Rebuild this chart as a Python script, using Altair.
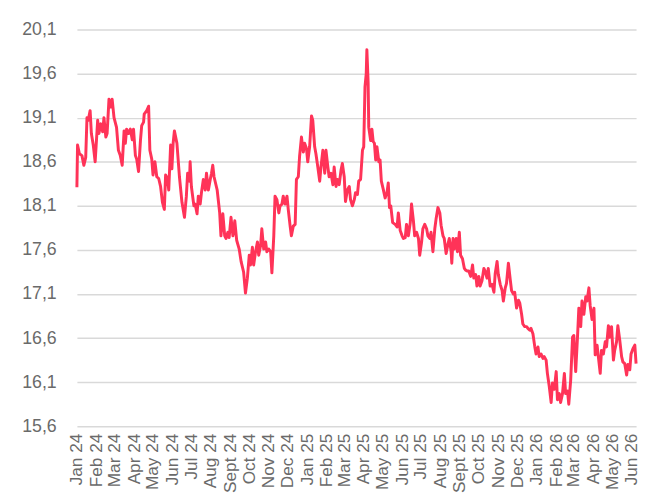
import altair as alt
import pandas as pd

start_date = "2024-01-01"

# Segment 1: Jan 2024 - Aug 2024 (days since start, value)
days_1 = [0, 1, 4, 8, 11, 14, 16, 18, 21, 23, 26, 29, 33, 35, 38, 41, 43, 46, 48, 51,
          54, 56, 59, 63, 66, 69, 72, 75, 77, 79, 82, 85, 88, 90, 93, 95, 98, 101, 103, 106,
          107, 111, 114, 116, 119, 121, 124, 127, 130, 133, 136, 139, 141, 144, 146, 149, 151, 153, 155, 159,
          163, 167, 171, 174, 176, 179, 180, 182, 186, 188, 191, 193, 196, 198, 201, 204, 206, 209, 212, 214,
          216, 218]
values_1 = [18.31, 18.79, 18.69, 18.67, 18.56, 18.65, 19.10, 19.07, 19.18, 18.92,
            18.79, 18.60, 19.07, 18.92, 19.03, 18.94, 19.10, 18.88, 18.92, 19.31,
            19.22, 19.31, 19.10, 18.99, 18.73, 18.67, 18.56, 18.95, 18.81, 18.97,
            18.92, 18.97, 18.85, 18.97, 18.67, 18.63, 18.49, 18.84, 19.01, 19.05,
            19.14, 19.18, 19.23, 18.73, 18.63, 18.45, 18.60, 18.43, 18.41, 18.32,
            18.14, 18.06, 18.45, 18.41, 18.28, 18.79, 18.52, 18.81, 18.95, 18.81,
            18.43, 18.14, 17.97, 18.21, 18.47, 18.38, 18.60, 18.32, 18.10, 18.12,
            18.01, 18.21, 18.12, 18.25, 18.40, 18.28, 18.47, 18.28, 18.40, 18.47,
            18.56, 18.43]

# Segment 2: Aug 2024 - Mar 2025
days_2 = [223, 227, 229, 232, 235, 237, 240, 242, 245, 248, 251, 254, 258, 261, 265, 268, 271, 274, 276, 279,
          281, 284, 287, 289, 292, 294, 297, 300, 302, 305, 308, 310, 313, 315, 318, 321, 323, 326, 328, 331,
          334, 336, 339, 341, 344, 347, 349, 352, 354, 357, 360, 362, 365, 367, 370, 373, 375, 378, 380, 383,
          386, 388, 391, 394, 396, 399, 401, 404, 407, 409, 412, 414, 417, 420, 422, 425, 427, 430, 433, 435,
          438, 441, 443, 446, 448, 451]
values_2 = [18.28, 18.02, 17.76, 18.01, 17.76, 17.73, 17.80, 17.74, 17.97, 17.76,
            17.93, 17.71, 17.61, 17.47, 17.35, 17.11, 17.28, 17.54, 17.43, 17.63,
            17.43, 17.58, 17.69, 17.54, 17.65, 17.84, 17.61, 17.69, 17.58, 17.61,
            17.58, 17.34, 17.76, 18.21, 18.17, 18.02, 18.10, 18.12, 18.21, 18.12,
            18.21, 18.06, 17.87, 17.76, 17.87, 17.89, 18.40, 18.43, 18.66, 18.88,
            18.71, 18.81, 18.75, 18.60, 18.77, 19.12, 19.07, 18.77, 18.69, 18.54,
            18.38, 18.54, 18.73, 18.47, 18.73, 18.54, 18.43, 18.47, 18.34, 18.54,
            18.32, 18.40, 18.34, 18.51, 18.58, 18.43, 18.15, 18.28, 18.32, 18.17,
            18.10, 18.17, 18.25, 18.23, 18.38, 18.40]

# Segment 3: Mar 2025 - Oct 2025
days_3 = [454, 456, 458, 460, 461, 463, 464, 467, 469, 471, 473, 475, 477, 480, 482, 484, 487, 490, 493, 495,
          497, 499, 502, 506, 509, 511, 514, 517, 519, 522, 524, 527, 530, 532, 535, 537, 540, 543, 545, 548,
          550, 553, 556, 558, 561, 563, 566, 569, 571, 574, 577, 579, 582, 584, 587, 590, 592, 595, 596, 598,
          600, 603, 605, 608, 610, 613, 616, 618, 621, 623, 626, 629, 631, 634, 636, 639, 641, 644, 647, 649,
          652, 654, 657, 660]
values_3 = [18.73, 18.77, 19.45, 19.60, 19.87, 19.50, 18.99, 18.84, 18.97, 18.83,
            18.81, 18.62, 18.77, 18.60, 18.62, 18.38, 18.29, 18.19, 18.25, 18.36,
            18.08, 18.10, 17.91, 17.89, 17.86, 18.02, 17.82, 17.76, 17.73, 17.74,
            17.89, 17.76, 17.91, 18.12, 17.93, 17.76, 17.80, 17.73, 17.54, 17.69,
            17.84, 17.89, 17.84, 17.76, 17.73, 17.80, 17.58, 17.84, 17.95, 18.08,
            18.02, 17.88, 17.76, 17.73, 17.56, 17.67, 17.73, 17.58, 17.45, 17.73,
            17.61, 17.73, 17.58, 17.80, 17.54, 17.50, 17.39, 17.37, 17.36, 17.36,
            17.30, 17.43, 17.28, 17.32, 17.19, 17.30, 17.19, 17.25, 17.39, 17.36,
            17.28, 17.39, 17.19, 17.21]

# Segment 4: Oct 2025 - Jun 2026
days_4 = [663, 665, 668, 670, 673, 676, 678, 681, 683, 686, 689, 691, 694, 696, 699, 702, 704, 707, 709, 712,
          715, 717, 720, 722, 725, 728, 730, 733, 735, 738, 741, 743, 746, 748, 751, 754, 756, 759, 762, 764,
          767, 769, 772, 775, 777, 780, 782, 785, 788, 790, 793, 796, 798, 801, 803, 806, 809, 811, 814, 816,
          819, 822, 824, 827, 829, 832, 834, 837, 840, 842, 845, 847, 850, 853, 855, 858, 860, 863, 866, 868,
          871, 874, 876, 879, 881, 884, 887, 889]
values_4 = [17.12, 17.33, 17.47, 17.32, 17.21, 17.14, 17.02, 17.17, 17.22, 17.45,
            17.26, 17.14, 17.10, 17.12, 16.94, 17.03, 17.00, 16.87, 16.76, 16.73,
            16.73, 16.71, 16.69, 16.71, 16.65, 16.50, 16.42, 16.50, 16.39, 16.42,
            16.37, 16.39, 16.35, 16.20, 16.05, 15.87, 16.09, 16.02, 16.22, 15.90,
            15.97, 15.87, 15.97, 16.20, 15.97, 16.00, 15.85, 16.12, 16.61, 16.63,
            16.22, 16.63, 16.94, 16.73, 17.02, 16.87, 17.07, 17.02, 17.17, 16.97,
            16.81, 16.94, 16.41, 16.52, 16.39, 16.20, 16.46, 16.42, 16.56, 16.50,
            16.74, 16.61, 16.73, 16.35, 16.46, 16.56, 16.74, 16.58, 16.39, 16.33,
            16.31, 16.18, 16.30, 16.24, 16.42, 16.48, 16.52, 16.31]

y_ticks = [15.6, 16.1, 16.6, 17.1, 17.6, 18.1, 18.6, 19.1, 19.6, 20.1]

days = days_1 + days_2 + days_3 + days_4
values = values_1 + values_2 + values_3 + values_4

df = pd.DataFrame({
    "date": pd.Timestamp(start_date) + pd.to_timedelta(days, unit="D"),
    "value": values,
})

FONT = "Liberation Sans"
LABEL_COLOR = "#6a6a6a"

chart = alt.Chart(df).mark_line(
    color="#FF3358", strokeWidth=3, strokeJoin="round"
).encode(
    x=alt.X(
        "date:T",
        scale=alt.Scale(nice=False),
        axis=alt.Axis(
            title=None,
            tickCount={"interval": "month", "step": 1},
            labelExpr="(month(datum.value) == 8 ? 'Sept' : timeFormat(datum.value, '%b')) + ' ' + timeFormat(datum.value, '%y')",
            labelAngle=-90,
            grid=False,
            domain=False,
            ticks=False,
            labelPadding=7,
            labelOverlap=False,
            labelFlush=False,
            labelFont=FONT,
            labelFontSize=17.5,
            labelColor=LABEL_COLOR,
        ),
    ),
    y=alt.Y(
        "value:Q",
        scale=alt.Scale(domain=[15.6, 20.1], nice=False, zero=False),
        axis=alt.Axis(
            title=None,
            values=y_ticks,
            labelExpr="replace(format(datum.value, '.1f'), '.', ',')",
            grid=True,
            gridColor="#d9d9d9",
            gridWidth=1.5,
            domain=False,
            ticks=False,
            labelPadding=21,
            minExtent=70,
            maxExtent=70,
            labelFont=FONT,
            labelFontSize=18,
            labelColor=LABEL_COLOR,
        ),
    ),
).properties(
    width=568,
    height=403,
    padding={"left": 0, "top": 9, "right": 0, "bottom": 0},
).configure_view(stroke=None)

chart.save("out.html", embed_options={"renderer": "svg", "actions": False})
